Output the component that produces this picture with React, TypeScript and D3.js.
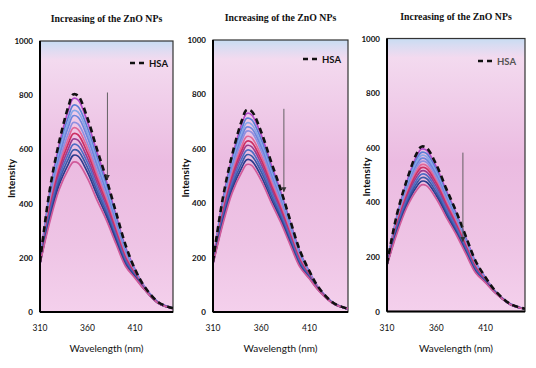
import React from "react";
import * as d3 from "d3";

const wavelengths = [310, 320, 330, 340, 345, 350, 360, 370, 380, 390, 400, 410, 420, 435, 450];
const xTicks = [310, 360, 410];
const yTicks = [0, 200, 400, 600, 800, 1000];
const titleText = "Increasing of the ZnO NPs";
const xLabel = "Wavelength (nm)";
const yLabel = "Intensity";
const legendLabel = "HSA";

const curveColors = [
  "#b048c8", "#5b7fd6", "#86a6e8", "#6d86dc", "#8f8fe0", "#e06898",
  "#cc2f63", "#9a3c8e", "#4f6cc4", "#3a5aa8", "#2c3c8c", "#d05a9a",
];

// Panel 1
const hsa1 = [185, 445, 625, 760, 803, 798, 715, 600, 490, 368, 248, 158, 94, 35, 14];
const zno1 = [
  [188, 438, 614, 746, 788, 783, 701, 589, 481, 358, 240, 158, 94, 35, 14],
  [186, 426, 597, 722, 763, 758, 679, 570, 466, 347, 233, 154, 93, 34, 14],
  [184, 417, 583, 703, 743, 738, 661, 555, 453, 338, 227, 152, 92, 34, 14],
  [183, 408, 569, 685, 724, 719, 644, 541, 441, 329, 221, 149, 91, 34, 14],
  [182, 396, 552, 661, 699, 694, 622, 522, 426, 318, 213, 145, 89, 33, 14],
  [181, 386, 538, 642, 679, 674, 604, 507, 414, 308, 207, 143, 88, 33, 13],
  [180, 377, 524, 623, 658, 654, 586, 492, 402, 299, 201, 140, 87, 33, 13],
  [180, 368, 510, 604, 638, 634, 568, 477, 390, 290, 195, 137, 86, 32, 13],
  [179, 358, 496, 585, 618, 614, 551, 462, 377, 281, 189, 134, 85, 32, 13],
  [178, 348, 482, 566, 598, 595, 533, 447, 365, 272, 183, 131, 84, 32, 13],
  [178, 339, 468, 547, 578, 575, 515, 432, 353, 263, 176, 129, 83, 31, 13],
  [177, 328, 450, 527, 553, 550, 493, 413, 338, 251, 169, 125, 82, 31, 13],
];

// Panel 2
const hsa2 = [185, 415, 580, 705, 743, 738, 662, 555, 453, 338, 227, 150, 88, 33, 12];
const zno2 = [
  [186, 409, 571, 693, 730, 725, 651, 546, 445, 332, 223, 148, 87, 33, 12],
  [185, 400, 558, 675, 712, 707, 634, 532, 434, 324, 217, 146, 86, 33, 12],
  [184, 392, 546, 659, 695, 690, 619, 519, 424, 316, 212, 143, 85, 32, 12],
  [183, 385, 536, 645, 680, 675, 606, 508, 414, 309, 208, 141, 85, 32, 12],
  [182, 378, 525, 631, 665, 661, 592, 497, 405, 303, 203, 139, 84, 32, 12],
  [181, 369, 511, 612, 645, 641, 575, 482, 393, 293, 197, 136, 83, 32, 12],
  [180, 360, 499, 596, 628, 624, 559, 469, 383, 286, 192, 134, 82, 31, 12],
  [180, 353, 488, 581, 612, 608, 545, 457, 373, 279, 187, 132, 81, 31, 11],
  [179, 345, 476, 565, 595, 591, 530, 445, 363, 271, 182, 129, 80, 31, 11],
  [178, 337, 464, 548, 578, 574, 515, 432, 352, 263, 177, 127, 79, 31, 11],
  [177, 328, 452, 532, 560, 556, 499, 418, 342, 255, 171, 124, 78, 30, 11],
  [176, 320, 439, 515, 542, 539, 483, 405, 331, 247, 166, 122, 77, 30, 11],
];

// Panel 3
const hsa3 = [175, 355, 480, 578, 604, 600, 538, 451, 368, 275, 184, 125, 75, 28, 10];
const zno3 = [
  [176, 350, 474, 569, 595, 591, 530, 444, 362, 271, 181, 124, 74, 28, 10],
  [175, 344, 465, 558, 583, 579, 519, 435, 355, 265, 178, 122, 74, 28, 10],
  [175, 339, 457, 547, 572, 568, 509, 427, 348, 260, 174, 120, 73, 28, 10],
  [174, 334, 449, 537, 561, 557, 500, 419, 342, 255, 171, 119, 73, 27, 10],
  [174, 328, 442, 527, 550, 547, 490, 411, 335, 251, 168, 117, 72, 27, 10],
  [173, 322, 433, 515, 538, 535, 479, 402, 328, 245, 164, 116, 71, 27, 10],
  [172, 317, 425, 505, 527, 524, 470, 394, 321, 240, 161, 114, 71, 27, 10],
  [172, 311, 417, 493, 515, 512, 459, 385, 314, 235, 157, 112, 70, 27, 10],
  [171, 305, 408, 481, 503, 500, 448, 376, 307, 229, 153, 110, 69, 26, 9],
  [170, 298, 398, 469, 490, 487, 436, 366, 298, 223, 149, 109, 69, 26, 9],
  [170, 292, 389, 457, 477, 474, 425, 356, 291, 217, 145, 107, 68, 26, 9],
  [169, 285, 380, 444, 464, 461, 413, 346, 283, 211, 141, 105, 67, 26, 9],
];

type Panel = {
  left: number; right: number; top: number; bottom: number;
  hsa: number[]; curves: number[][];
  arrow: { wl: number; from: number; to: number };
  legendX: number; legendY: number; legendColor: string;
  titleY: number; yLabelX: number;
};

const panels: Panel[] = [
  { left: 40, right: 173, top: 41, bottom: 312, hsa: hsa1, curves: zno1,
    arrow: { wl: 381, from: 810, to: 490 }, legendX: 130, legendY: 63, legendColor: "#111",
    titleY: 22, yLabelX: 15 },
  { left: 213, right: 348, top: 40, bottom: 312, hsa: hsa2, curves: zno2,
    arrow: { wl: 383.5, from: 747, to: 442 }, legendX: 303, legendY: 59, legendColor: "#111",
    titleY: 21, yLabelX: 189 },
  { left: 387, right: 525, top: 38.5, bottom: 311.5, hsa: hsa3, curves: zno3,
    arrow: { wl: 387, from: 582, to: 256 }, legendX: 478, legendY: 61, legendColor: "#555",
    titleY: 20, yLabelX: 370 },
];

function ChartPanel({ p, idx }: { p: Panel; idx: number }) {
  const x = d3.scaleLinear().domain([310, 450]).range([p.left, p.right]);
  const y = d3.scaleLinear().domain([0, 1000]).range([p.bottom, p.top]);
  const line = d3
    .line<number>()
    .x((_, i) => x(wavelengths[i]))
    .y((d) => y(d))
    .curve(d3.curveCatmullRom.alpha(0.5));
  const gid = `bg${idx}`;
  const cid = `clip${idx}`;
  const aid = `arr${idx}`;
  const cx = (p.left + p.right) / 2;
  return (
    <g>
      <defs>
        <linearGradient id={gid} x1="0" y1="0" x2="0" y2="1">
          <stop offset="0" stopColor="#c7dcf2" />
          <stop offset="0.025" stopColor="#d9dcf2" />
          <stop offset="0.07" stopColor="#f3daef" />
          <stop offset="0.45" stopColor="#ebbbe1" />
          <stop offset="0.75" stopColor="#eec4e5" />
          <stop offset="1" stopColor="#f4d0ec" />
        </linearGradient>
        <clipPath id={cid}>
          <rect x={p.left} y={p.top} width={p.right - p.left} height={p.bottom - p.top} />
        </clipPath>
        <marker id={aid} viewBox="0 0 10 10" refX="9" refY="5" markerWidth="5" markerHeight="6"
          markerUnits="userSpaceOnUse" orient="auto">
          <path d="M0,0 L10,5 L0,10 z" fill="#333" />
        </marker>
      </defs>
      <rect x={p.left} y={p.top} width={p.right - p.left} height={p.bottom - p.top}
        fill={`url(#${gid})`} stroke="#333" strokeWidth={1.2} />
      <text x={cx} y={p.titleY} textAnchor="middle" fontFamily="'Liberation Serif', serif"
        fontWeight="bold" fontSize={9.8} fill="#111">{titleText}</text>
      <g clipPath={`url(#${cid})`}>
        {p.curves.map((c, i) => (
          <path key={i} d={line(c) || ""} fill="none" stroke={curveColors[i]} strokeWidth={1.7} />
        ))}
        <path d={line(p.hsa) || ""} fill="none" stroke="#111" strokeWidth={2.6} strokeDasharray="6,4" />
      </g>
      <line x1={x(p.arrow.wl)} x2={x(p.arrow.wl)} y1={y(p.arrow.from)} y2={y(p.arrow.to)}
        stroke="#555" strokeWidth={0.9} markerEnd={`url(#${aid})`} />
      <line x1={p.legendX} x2={p.legendX + 16} y1={p.legendY} y2={p.legendY}
        stroke="#111" strokeWidth={2.6} strokeDasharray="5,4" />
      <text x={p.legendX + 19} y={p.legendY + 3.5} fontFamily="Lato, sans-serif" fontWeight="bold"
        fontSize={9.5} fill={p.legendColor}>{legendLabel}</text>
      <line x1={p.left} x2={p.left} y1={p.top} y2={p.bottom} stroke="#000" strokeWidth={2} />
      <line x1={p.left} x2={p.right} y1={p.bottom} y2={p.bottom} stroke="#000" strokeWidth={2} />
      {yTicks.map((t) => (
        <text key={t} x={p.left - 7} y={y(t) + 3} textAnchor="end" fontFamily="Lato, sans-serif"
          fontWeight="bold" fontSize={8} fill="#111">{t}</text>
      ))}
      {xTicks.map((t) => (
        <text key={t} x={x(t)} y={p.bottom + 19} textAnchor="middle" fontFamily="Lato, sans-serif"
          fontSize={8.5} fill="#111">{t}</text>
      ))}
      <text x={cx} y={p.bottom + 40} textAnchor="middle" fontFamily="Lato, sans-serif"
        fontSize={10} fill="#111">{xLabel}</text>
      <text transform={`translate(${p.yLabelX},${(p.top + p.bottom) / 2 + 2}) rotate(-90)`}
        textAnchor="middle" fontFamily="Lato, sans-serif" fontWeight="bold" fontSize={10}
        fill="#111">{yLabel}</text>
    </g>
  );
}

export default function App() {
  return (
    <svg width={536} height={368} style={{ position: "absolute", left: 0, top: 0, background: "#fff" }}>
      <rect x={0} y={0} width={536} height={368} fill="#fff" />
      {panels.map((p, i) => (
        <ChartPanel key={i} p={p} idx={i} />
      ))}
    </svg>
  );
}
